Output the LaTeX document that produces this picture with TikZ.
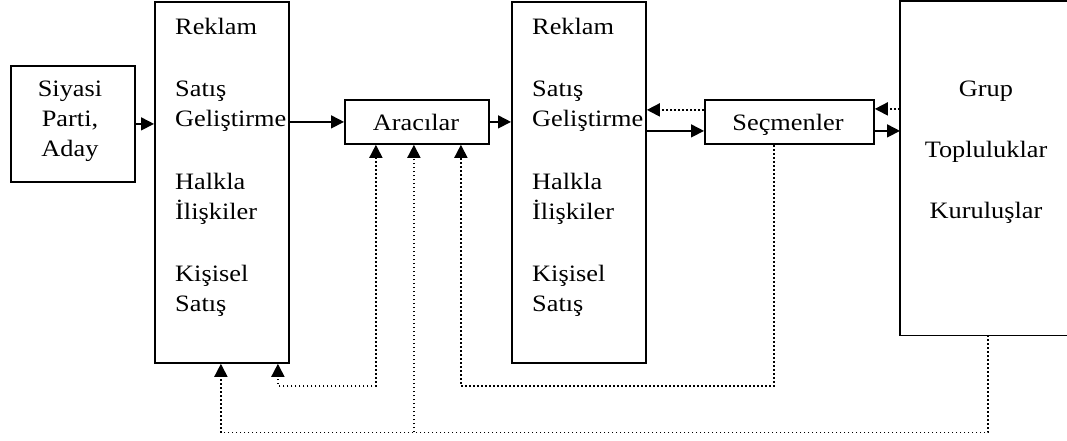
\documentclass[tikz,border=0pt]{standalone}
\usepackage{fontspec}
\setmainfont{Liberation Serif}[FakeStretch=1.12]
\usetikzlibrary{arrows.meta}
\begin{document}
\begin{tikzpicture}[x=1pt,y=-1pt,
  box/.style={draw, line width=1.8pt, rectangle, anchor=north west, inner sep=0pt},
  openbox/.style={rectangle, anchor=north west, inner sep=0pt},
  edge/.style={line width=1.8pt},
  txt/.style={inner sep=0pt, font=\fontsize{23.5}{28}\selectfont},
  tip/.style={-{Triangle[length=13pt,width=13pt]}},
  arr/.style={line width=1.6pt, tip},
  darr/.style={line width=1.7pt, dash pattern=on 1.7pt off 2.3pt, tip}]
\useasboundingbox (0,0) rectangle (1067,441);

% boxes
\node[box, minimum width=124pt, minimum height=116pt] (S) at (10,65) {};
\node[box, minimum width=134pt, minimum height=361pt] (L) at (154,1) {};
\node[box, minimum width=144pt, minimum height=44pt] (A) at (344,99) {};
\node[box, minimum width=134pt, minimum height=361pt] (M) at (511,1) {};
\node[box, minimum width=169pt, minimum height=44pt] (V) at (704,99) {};
% the groups box runs off the right margin, so its right side is not drawn
\node[openbox, minimum width=176pt, minimum height=334pt] (R) at (900,1) {};
\draw[edge] (R.north east) -- (R.north west) -- (R.south west) -- (R.south east);

% party / candidate
\node[txt, anchor=base] (s1) at (70,97) {Siyasi};
\node[txt, anchor=base] (s2) at (70,127) {Parti,};
\node[txt, anchor=base] (s3) at (70,156) {Aday};

% promotion mix, first column
\node[txt, anchor=base west] (l1) at (175,35) {Reklam};
\node[txt, anchor=base west] (l2) at (175,97) {Satış};
\node[txt, anchor=base west] (l3) at (175,127) {Geliştirme};
\node[txt, anchor=base west] (l4) at (175,189) {Halkla};
\node[txt, anchor=base west] (l5) at (175,219) {İlişkiler};
\node[txt, anchor=base west] (l6) at (175,281) {Kişisel};
\node[txt, anchor=base west] (l7) at (175,311) {Satış};

% promotion mix, second column
\node[txt, anchor=base west] (m1) at (532,35) {Reklam};
\node[txt, anchor=base west] (m2) at (532,97) {Satış};
\node[txt, anchor=base west] (m3) at (532,127) {Geliştirme};
\node[txt, anchor=base west] (m4) at (532,189) {Halkla};
\node[txt, anchor=base west] (m5) at (532,219) {İlişkiler};
\node[txt, anchor=base west] (m6) at (532,281) {Kişisel};
\node[txt, anchor=base west] (m7) at (532,311) {Satış};

% intermediaries and voters
\node[txt, anchor=base] (at) at (416,131) {Aracılar};
\node[txt, anchor=base] (vt) at (788,131) {Seçmenler};

% groups
\node[txt, anchor=base] (r1) at (986,97) {Grup};
\node[txt, anchor=base] (r2) at (986,157) {Topluluklar};
\node[txt, anchor=base] (r3) at (986,218) {Kuruluşlar};

% main flow
\draw[arr] (S.east) -- (S.east -| L.west);
\draw[arr] (A.west -| L.east) -- (A.west);
\draw[arr] (A.east) -- (A.east -| M.west);

\coordinate (vin) at ([yshift=-9pt]V.west);
\coordinate (vback) at ([yshift=12pt]V.west);
\coordinate (vout) at ([yshift=-9pt]V.east);
\coordinate (rback) at ([yshift=13pt]V.east);
\draw[arr] (vin -| M.east) -- (vin);
\draw[darr] (vback) -- (vback -| M.east);
\draw[arr] (vout) -- (vout -| R.west);
\draw[darr] (rback -| R.west) -- (rback);

% feedback loops
\coordinate (a1) at ([xshift=-41pt]A.south);
\coordinate (a2) at ([xshift=-3pt]A.south);
\coordinate (a3) at ([xshift=44pt]A.south);
\coordinate (lf1) at ([xshift=-1pt]L.south);
\coordinate (lf2) at ([xshift=56pt]L.south);
\coordinate (bot) at ([yshift=-97pt]R.south);

\draw[darr] ([xshift=-15.5pt]V.south) -- ++(0,241) -| (a3);
\draw[darr, {Triangle[length=13pt,width=13pt]}-{Triangle[length=13pt,width=13pt]}] (a1) -- ++(0,241) -| (lf2);
\draw[darr] (R.south) -- (bot) -| (lf1);
\draw[darr] (a2 |- bot) -- (a2);
\end{tikzpicture}
\end{document}
